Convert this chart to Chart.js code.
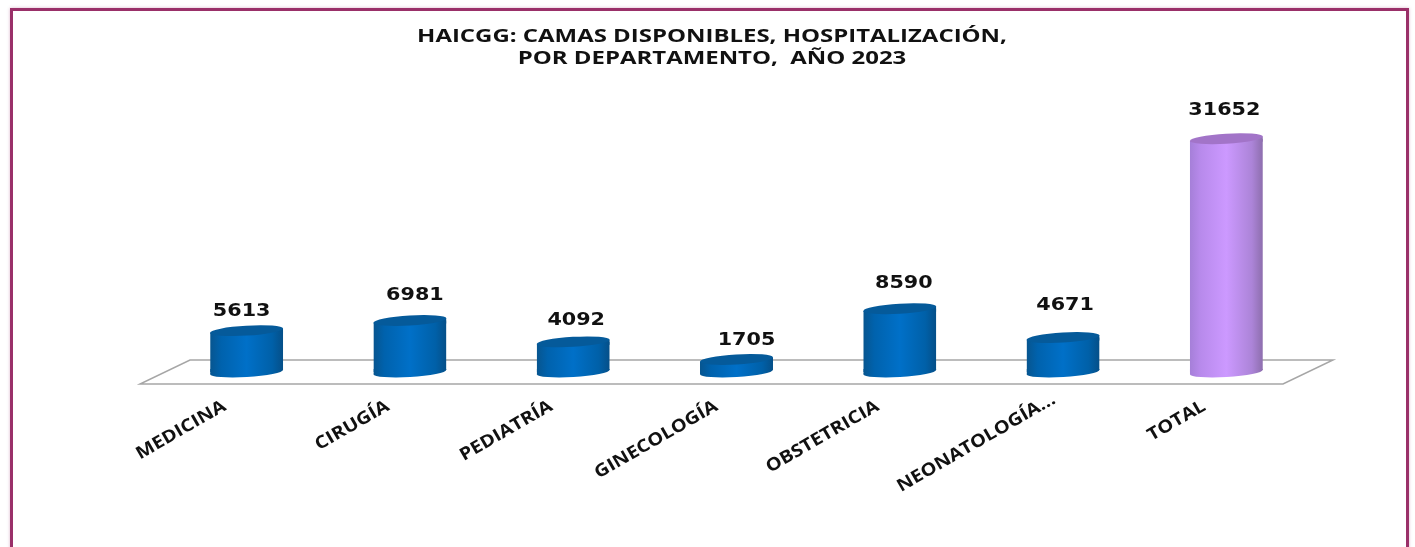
<!DOCTYPE html>
<html>
<head>
<meta charset="utf-8">
<title>Camas disponibles</title>
<script src="https://cdn.jsdelivr.net/npm/chart.js@4"></script>
<style>
html, body { margin: 0; padding: 0; background: #fff; overflow: hidden; }
#marco { position: absolute; left: 10px; top: 8px; width: 1393px; height: 560px; border: 3px solid #9a3069; box-shadow: 0 0 3px rgba(154,48,105,.35); }
#lienzo { position: absolute; left: 16px; top: 0; width: 1392px; height: 547px; }
</style>
</head>
<body>
<div id="marco"></div>
<div id="lienzo"><canvas id="myChart"></canvas></div>
<script>
const categorias = ["MEDICINA", "CIRUGÍA", "PEDIATRÍA", "GINECOLOGÍA", "OBSTETRICIA", "NEONATOLOGÍA...", "TOTAL"]
const camas = [5613, 6981, 4092, 1705, 8590, 4671, 31652]
const titulo = ["HAICGG: CAMAS DISPONIBLES, HOSPITALIZACIÓN,", "POR DEPARTAMENTO,  AÑO 2023"]

// desplazamiento de cada etiqueta de valor respecto a la tapa del cilindro
const ajusteEtiquetaX = [-5, 5, 3, 10, 4, 2, -2]
const ajusteEtiquetaY = [-19, -25, -22, -19, -25, -32, -28]
// NEONATOLOGÍA... termina mas a la derecha que las demas
const ajusteNombreX = [0, 0, 0, 2, 0, 13, 0]
const ajusteNombreY = [0, 0, 0, 0, 0, -7, 0]

const azul = { izq: "#07558f", medio1: "#0062ad", centro: "#0070c8", medio2: "#0060a8", der: "#054f88", tapa: "#055a9a" }
const lila = { izq: "#a57fd8", medio1: "#b88aec", centro: "#cc99ff", medio2: "#ac84d8", der: "#8d6ead", tapa: "#a274c8" }
const INCLINACION = 2.2
const RADIO_Y = 5
const FONDO_X = 25
const FONDO_Y = 12

function paleta(i) {
    return i == categorias.length - 1 ? lila : azul
}

function degradado(ctx, x, w, p) {
    const g = ctx.createLinearGradient(x - w / 2, 0, x + w / 2, 0)
    g.addColorStop(0, p.izq)
    g.addColorStop(0.15, p.medio1)
    g.addColorStop(0.5, p.centro)
    g.addColorStop(0.85, p.medio2)
    g.addColorStop(1, p.der)
    return g
}

function elipse(ctx, x, y, w, color) {
    ctx.beginPath()
    ctx.ellipse(x, y, w / 2, RADIO_Y, -Math.atan2(INCLINACION * 2, w), 0, Math.PI * 2)
    ctx.fillStyle = color
    ctx.fill()
}

// texto estirado a lo ancho, como en la imagen original
function textoAncho(ctx, texto, x, y, fuente, escala, alinear, angulo) {
    ctx.save()
    ctx.translate(x, y)
    ctx.rotate(angulo || 0)
    ctx.scale(escala, 1)
    ctx.font = fuente
    ctx.fillStyle = "#111"
    ctx.textAlign = alinear
    ctx.textBaseline = "middle"
    ctx.fillText(texto, 0, 0)
    ctx.restore()
}

const cilindros = {
    id: "cilindros",
    beforeDatasetsDraw(chart) {
        const ctx = chart.ctx
        const area = chart.chartArea
        // piso del grafico
        ctx.save()
        ctx.strokeStyle = "#a6a6a6"
        ctx.lineWidth = 1.5
        ctx.beginPath()
        ctx.moveTo(area.left - FONDO_X, area.bottom + FONDO_Y)
        ctx.lineTo(area.right - FONDO_X, area.bottom + FONDO_Y)
        ctx.lineTo(area.right + FONDO_X, area.bottom - FONDO_Y)
        ctx.lineTo(area.left + FONDO_X, area.bottom - FONDO_Y)
        ctx.closePath()
        ctx.stroke()
        ctx.restore()

        // recorte para que los lados sigan la inclinacion de las elipses
        ctx.save()
        ctx.beginPath()
        chart.getDatasetMeta(0).data.forEach(function(b) {
            ctx.moveTo(b.x - b.width / 2, b.y + INCLINACION)
            ctx.lineTo(b.x + b.width / 2, b.y - INCLINACION)
            ctx.lineTo(b.x + b.width / 2, b.base - INCLINACION)
            ctx.lineTo(b.x - b.width / 2, b.base + INCLINACION)
            ctx.closePath()
        })
        ctx.clip()
    },
    afterDatasetsDraw(chart) {
        const ctx = chart.ctx
        const barras = chart.getDatasetMeta(0).data
        // tapa las esquinas que deja la barra recta dentro del recorte
        barras.forEach(function(b, i) {
            ctx.fillStyle = degradado(ctx, b.x, b.width, paleta(i))
            ctx.fillRect(b.x - b.width / 2, b.y - 3, b.width, 6)
            ctx.fillRect(b.x - b.width / 2, b.base - 3, b.width, 6)
        })
        ctx.restore()
        barras.forEach(function(b, i) {
            elipse(ctx, b.x, b.base, b.width, degradado(ctx, b.x, b.width, paleta(i)))
            elipse(ctx, b.x, b.y, b.width, paleta(i).tapa)
            textoAncho(ctx, String(camas[i]), b.x + ajusteEtiquetaX[i], b.y + ajusteEtiquetaY[i], "bold 18px 'DejaVu Sans'", 1.15, "center")
        })
    },
    afterDraw(chart) {
        const ctx = chart.ctx
        titulo.forEach(function(linea, i) {
            textoAncho(ctx, linea, chart.width / 2, 37 + i * 22, "bold 18px 'Open Sans'", 1.33, "center")
        })
        categorias.forEach(function(nombre, i) {
            const x = chart.scales.x.getPixelForTick(i) - 22 + ajusteNombreX[i]
            const y = chart.chartArea.bottom + 33 + ajusteNombreY[i]
            textoAncho(ctx, nombre, x, y, "bold 17.5px 'Open Sans'", 1.14, "right", -Math.PI / 6)
        })
    }
}

new Chart(document.getElementById("myChart").getContext("2d"), {
    type: "bar",
    plugins: [cilindros],
    data: {
        labels: categorias,
        datasets: [{
            data: camas,
            categoryPercentage: 1,
            barPercentage: 0.447,
            backgroundColor: function(c) {
                if (!c.chart.chartArea) return azul.centro
                const x = c.chart.scales.x.getPixelForValue(c.dataIndex)
                return degradado(c.chart.ctx, x, 73, paleta(c.dataIndex))
            }
        }]
    },
    options: {
        responsive: true,
        maintainAspectRatio: false,
        animation: false,
        layout: { padding: { left: 149, right: 100, top: 114, bottom: 0 } },
        plugins: {
            legend: { display: false },
            tooltip: { enabled: false },
            title: { display: false }
        },
        scales: {
            x: {
                grid: { display: false },
                border: { display: false },
                afterFit: function(scale) { scale.height = 175 },
                ticks: { display: false }
            },
            y: { display: false, min: 0, max: 35000 }
        }
    }
})
</script>
</body>
</html>
